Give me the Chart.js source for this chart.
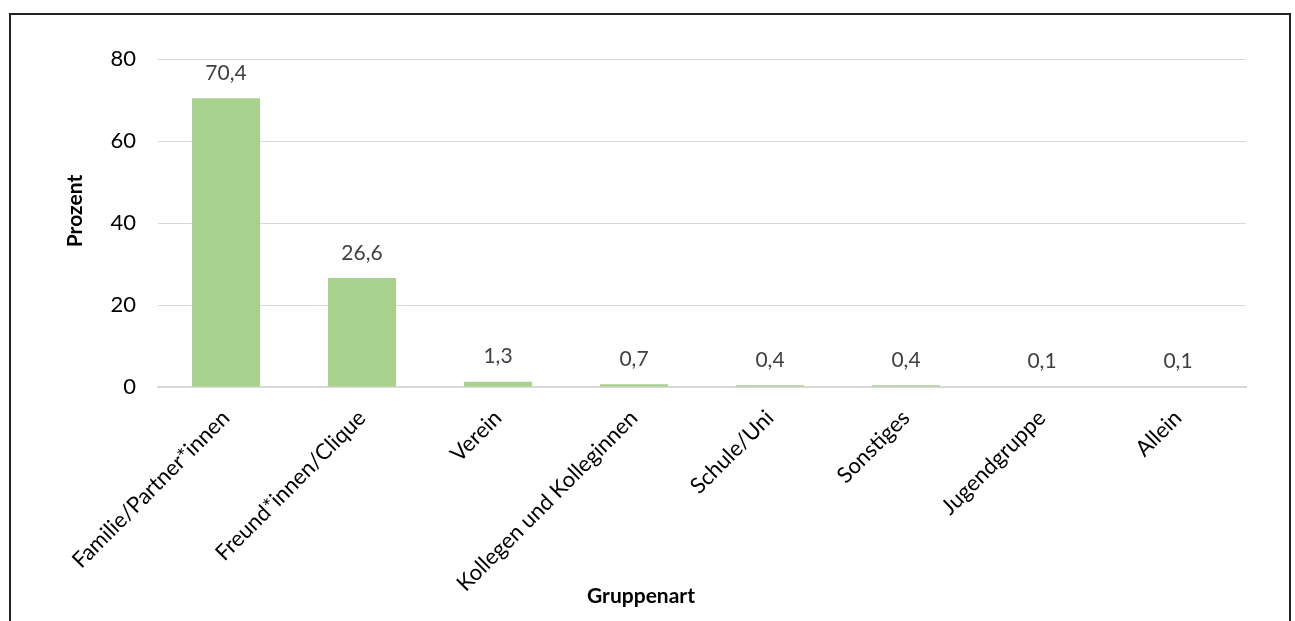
<!DOCTYPE html>
<html>
<head>
<meta charset="utf-8">
<script src="https://cdn.jsdelivr.net/npm/chart.js@4/dist/chart.umd.min.js"></script>
<style>
  body { margin: 0; background: #fff; overflow: hidden; }
  #wrap { position: relative; width: 1295px; height: 621px; }
  #frame { position: absolute; left: 9px; top: 13px; width: 1278px; height: 700px; border: 2px solid #222; }
  #chart { position: absolute; left: 0; top: 0; }
</style>
</head>
<body>
<div id="wrap">
  <div id="frame"></div>
  <canvas id="chart" width="1295" height="621"></canvas>
</div>
<script>
const categories = ["Familie/Partner*innen", "Freund*innen/Clique", "Verein", "Kollegen und Kolleginnen", "Schule/Uni", "Sonstiges", "Jugendgruppe", "Allein"];
const percentValues = [70.4, 26.6, 1.3, 0.7, 0.4, 0.4, 0.1, 0.1];
const yTicks = [0, 20, 40, 60, 80];
const yTitle = "Prozent";
const xTitle = "Gruppenart";

const FONT = "Lato, 'Open Sans', sans-serif";

// numbers above the bars, German decimal comma
const valueLabels = {
  id: "valueLabels",
  afterDatasetsDraw(chart) {
    const ctx = chart.ctx;
    const meta = chart.getDatasetMeta(0);
    ctx.save();
    ctx.font = "21px " + FONT;
    ctx.fillStyle = "#404040";
    ctx.textAlign = "center";
    ctx.textBaseline = "middle";
    meta.data.forEach((bar, i) => {
      const txt = percentValues[i].toFixed(1).replace(".", ",");
      ctx.fillText(txt, bar.x, bar.y - 25);
    });
    ctx.restore();
  }
};

// axis titles placed like in the original (not centered on the plot)
const axisTitles = {
  id: "axisTitles",
  afterDraw(chart) {
    const ctx = chart.ctx;
    ctx.save();
    ctx.font = "bold 21px " + FONT;
    ctx.fillStyle = "#000";
    ctx.textAlign = "center";
    ctx.textBaseline = "middle";
    ctx.fillText(xTitle, 641, 596);
    ctx.translate(75, 211);
    ctx.rotate(-Math.PI / 2);
    ctx.fillText(yTitle, 0, 0);
    ctx.restore();
  }
};

function mainEvent() {
  const ctx = document.getElementById("chart");
  new Chart(ctx, {
    type: "bar",
    data: {
      labels: categories,
      datasets: [
        {
          data: percentValues,
          backgroundColor: "#A9D18E",
          barPercentage: 0.5,
          categoryPercentage: 1.0,
        },
      ],
    },
    options: {
      responsive: false,
      animation: false,
      layout: { padding: { left: 60, right: 49, top: 59, bottom: 10 } },
      plugins: { legend: { display: false }, tooltip: { enabled: false } },
      scales: {
        x: {
          grid: { display: false, drawTicks: false },
          border: { color: "#D9D9D9", width: 2 },
          ticks: {
            color: "#000",
            font: { family: FONT, size: 22 },
            minRotation: 45,
            maxRotation: 45,
            padding: 18,
            autoSkip: false,
          },
          afterFit: (scale) => { scale.height = 224; },
        },
        y: {
          min: 0,
          max: 80,
          grid: { color: "#D9D9D9", lineWidth: 1, drawTicks: false },
          border: { display: false },
          afterBuildTicks: (scale) => { scale.ticks = yTicks.map((v) => ({ value: v })); },
          ticks: {
            color: "#000",
            font: { family: FONT, size: 22 },
            padding: 22,
          },
          afterFit: (scale) => { scale.width = 98; },
        },
      },
    },
    plugins: [valueLabels, axisTitles],
  });
}
document.addEventListener("DOMContentLoaded", () => mainEvent());
</script>
</body>
</html>
